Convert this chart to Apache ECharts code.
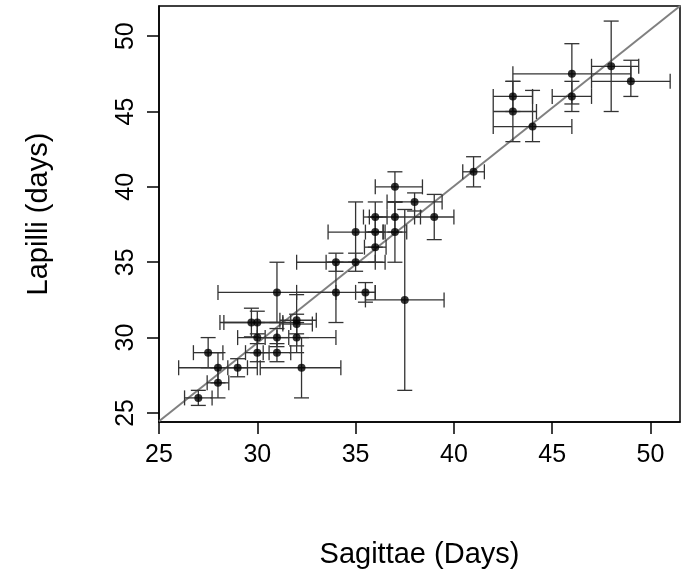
<!DOCTYPE html>
<html><head><meta charset="utf-8">
<script src="https://cdn.jsdelivr.net/npm/echarts@6/dist/echarts.min.js"></script>
<style>html,body{margin:0;padding:0;background:#fff}#c{width:681px;height:578px}</style>
</head><body><div id="c"></div>
<script>
// Sagittae (x) vs Lapilli (y), with error-bar ranges
const xVals  = [27, 27.5, 28, 28, 29, 29.7, 30, 30, 30, 31, 31, 31, 32, 32, 32, 32.25, 34, 34, 35, 35, 35.5, 36, 36, 36, 37, 37, 37, 37.5, 38, 39, 41, 43, 43, 44, 46, 46, 48, 49];
const yVals  = [26, 29, 28, 27, 28, 31, 31, 30, 29, 33, 30, 29, 31.15, 30.9, 30, 28, 35, 33, 37, 35, 33, 38, 37, 36, 40, 38, 37, 32.5, 39, 38, 41, 46, 45, 44, 47.5, 46, 48, 47];
const xLow   = [26.3, 26.75, 26, 27.45, 28.5, 28.1, 28.3, 29, 29.4, 28, 30.4, 30.3, 31.15, 31.3, 30, 30.15, 32, 32, 33.6, 33.5, 35, 35.4, 35.5, 35.45, 36, 35.7, 36.4, 35.5, 36.6, 38, 40.45, 42, 42, 42, 43, 45, 47, 47];
const xHigh  = [27.7, 28.25, 30, 28.55, 29.5, 31.3, 31.7, 31, 30.6, 34, 31.6, 31.7, 33.0, 32.8, 34, 34.25, 36, 36, 36.4, 36.5, 36, 36.6, 36.5, 36.55, 38.4, 38.3, 37.6, 39.5, 39.4, 40, 41.55, 44, 44.2, 46, 49, 47, 49.4, 51];
const yLow   = [25.5, 28, 27, 26, 27.4, 30.05, 30.25, 29, 28.4, 31, 29.4, 28.4, 29.45, 30.25, 29, 26, 34.4, 31, 35, 34.4, 32.35, 37, 36, 35, 39, 37, 35, 26.5, 38.4, 36.5, 40, 45, 43, 43, 45.5, 45, 45, 46];
const yHigh  = [26.5, 30, 29, 28, 28.6, 31.95, 31.75, 31, 29.6, 35, 30.6, 29.6, 32.85, 31.55, 31, 30, 35.6, 35, 39, 35.6, 33.65, 39, 38, 37, 41, 39, 39, 38.5, 39.6, 39.5, 42, 47, 47, 46.4, 49.5, 47, 51, 48.4];
// reference line end points
const refX = [25, 51.5];
const refY = [24.45, 52.0];
const xTicks = [25, 30, 35, 40, 45, 50];
const yTicks = [25, 30, 35, 40, 45, 50];
const xName = 'Sagittae (Days)';
const yName = 'Lapilli (days)';

const chart = echarts.init(document.getElementById('c'), null, {renderer: 'canvas'});
const errData = xVals.map((x, i) => [x, yVals[i], xLow[i], xHigh[i], yLow[i], yHigh[i]]);
const pts = xVals.map((x, i) => [x, yVals[i]]);
const refLine = refX.map((x, i) => [x, refY[i]]);
const CAP = 7.5;
function renderErr(params, api) {
  const x = api.value(0), y = api.value(1);
  const c = api.coord([x, y]);
  const xl = api.coord([api.value(2), y]), xh = api.coord([api.value(3), y]);
  const yl = api.coord([x, api.value(4)]), yh = api.coord([x, api.value(5)]);
  const style = {stroke: '#333', lineWidth: 1.3, fill: null};
  const seg = (x1, y1, x2, y2) => ({type: 'line', shape: {x1, y1, x2, y2}, style});
  return {type: 'group', children: [
    seg(xl[0], c[1], xh[0], c[1]),
    seg(xl[0], c[1] - CAP, xl[0], c[1] + CAP),
    seg(xh[0], c[1] - CAP, xh[0], c[1] + CAP),
    seg(c[0], yl[1], c[0], yh[1]),
    seg(c[0] - CAP, yl[1], c[0] + CAP, yl[1]),
    seg(c[0] - CAP, yh[1], c[0] + CAP, yh[1])
  ]};
}
const font = 'Liberation Sans, Arial, sans-serif';
const axisCommon = {
  type: 'value',
  splitLine: {show: false},
  axisLine: {show: true, onZero: false, lineStyle: {color: '#000', width: 1.5}},
  nameLocation: 'middle',
  nameTextStyle: {fontSize: 29, color: '#000', fontFamily: font}
};
chart.setOption({
  animation: false,
  backgroundColor: '#fff',
  grid: {left: 159, top: 6, width: 521, height: 416, show: true, borderColor: '#000', borderWidth: 1.5, backgroundColor: 'transparent'},
  xAxis: Object.assign({}, axisCommon, {
    min: 25, max: 51.5,
    name: xName, nameGap: 118,
    axisTick: {show: true, customValues: xTicks, length: 12, lineStyle: {color: '#000', width: 1.5}},
    axisLabel: {customValues: xTicks, fontSize: 25, color: '#000', fontFamily: font, margin: 21}
  }),
  yAxis: Object.assign({}, axisCommon, {
    min: 24.4, max: 52.0,
    name: yName, nameGap: 106, nameRotate: 90,
    axisTick: {show: true, customValues: yTicks, length: 12, lineStyle: {color: '#000', width: 1.5}},
    axisLabel: {customValues: yTicks, fontSize: 25, color: '#000', fontFamily: font, margin: 20, rotate: 90}
  }),
  series: [
    {type: 'line', data: refLine, symbol: 'none', lineStyle: {color: '#808080', width: 2}, silent: true, z: 1},
    {type: 'custom', data: errData, renderItem: renderErr, encode: {x: [0, 2, 3], y: [1, 4, 5]}, silent: true, z: 2},
    {type: 'scatter', data: pts, symbol: 'circle', symbolSize: 8, itemStyle: {color: '#000'}, silent: true, z: 3}
  ]
});
</script></body></html>
